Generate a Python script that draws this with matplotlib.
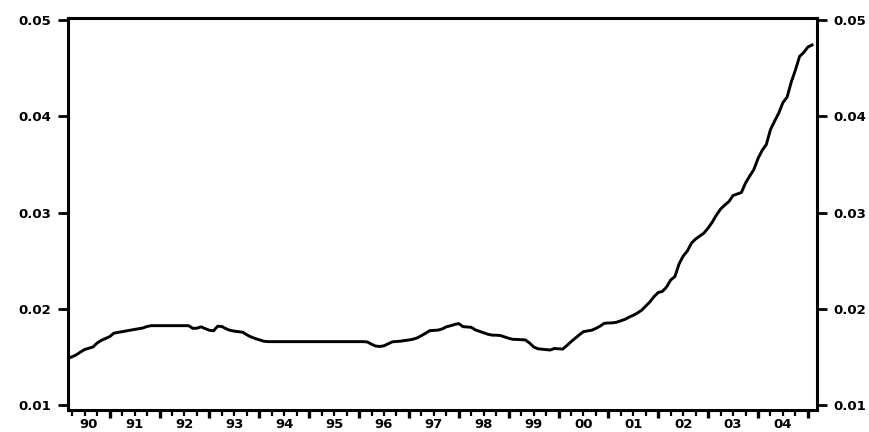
import numpy as np
import matplotlib
matplotlib.use("Agg")
import matplotlib.pyplot as plt

# monthly observations, 1990M03 .. 2005M02
start_year, start_month = 1990, 3
values = [
    # 1990 (Mar-Dec)
    0.01485, 0.01501, 0.01522, 0.01551, 0.01577, 0.01590, 0.01603, 0.01644,
    0.01672, 0.01691,
    # 1991
    0.01710, 0.01746, 0.01754, 0.01761, 0.01769, 0.01777, 0.01785, 0.01792,
    0.01800, 0.01816, 0.01824, 0.01824,
    # 1992
    0.01824, 0.01824, 0.01824, 0.01824, 0.01824, 0.01824, 0.01824, 0.01824,
    0.01796, 0.01798, 0.01812, 0.01793,
    # 1993
    0.01776, 0.01771, 0.01819, 0.01815, 0.01792, 0.01775, 0.01767, 0.01762,
    0.01756, 0.01729, 0.01707, 0.01691,
    # 1994
    0.01677, 0.01663, 0.01658, 0.01658, 0.01658, 0.01658, 0.01658, 0.01658,
    0.01658, 0.01658, 0.01658, 0.01658,
    # 1995
    0.01658, 0.01658, 0.01658, 0.01658, 0.01658, 0.01658, 0.01658, 0.01658,
    0.01658, 0.01658, 0.01658, 0.01658,
    # 1996
    0.01658, 0.01658, 0.01655, 0.01631, 0.01612, 0.01608, 0.01615, 0.01636,
    0.01656, 0.01660, 0.01663, 0.01670,
    # 1997
    0.01675, 0.01683, 0.01697, 0.01720, 0.01745, 0.01772, 0.01775, 0.01778,
    0.01790, 0.01812, 0.01823, 0.01836,
    # 1998
    0.01846, 0.01814, 0.01810, 0.01807, 0.01780, 0.01765, 0.01750, 0.01735,
    0.01726, 0.01725, 0.01722, 0.01707,
    # 1999
    0.01693, 0.01682, 0.01681, 0.01678, 0.01676, 0.01645, 0.01604, 0.01584,
    0.01580, 0.01576, 0.01571, 0.01587,
    # 2000
    0.01584, 0.01581, 0.01617, 0.01657, 0.01693, 0.01729, 0.01762, 0.01769,
    0.01777, 0.01796, 0.01819, 0.01849,
    # 2001
    0.01852, 0.01853, 0.01860, 0.01875, 0.01890, 0.01913, 0.01932, 0.01956,
    0.01985, 0.02029, 0.02072, 0.02127,
    # 2002
    0.02169, 0.02180, 0.02226, 0.02299, 0.02335, 0.02465, 0.02548, 0.02600,
    0.02683, 0.02725, 0.02756, 0.02787,
    # 2003
    0.02839, 0.02901, 0.02974, 0.03036, 0.03078, 0.03114, 0.03177, 0.03192,
    0.03208, 0.03307, 0.03379, 0.03447,
    # 2004
    0.03561, 0.03646, 0.03707, 0.03862, 0.03951, 0.04034, 0.04143, 0.04200,
    0.04356, 0.04481, 0.04622, 0.04663,
    # 2005 (Jan-Feb)
    0.04720, 0.04741,
]
year_labels = ["90", "91", "92", "93", "94", "95", "96", "97",
               "98", "99", "00", "01", "02", "03", "04"]
y_ticks = [0.01, 0.02, 0.03, 0.04, 0.05]


def main():
    t = start_year + (start_month - 1 + np.arange(len(values))) / 12.0

    fig = plt.figure(figsize=(8.69, 4.32), dpi=100)
    ax = fig.add_axes([0.078, 0.051, 0.862, 0.907])
    ax.plot(t, values, color="black", lw=2.1, solid_joinstyle="round")

    x0, x1 = 1990.16, 2005.18
    ax.set_xlim(x0, x1)
    ax.set_ylim(0.00948, 0.0502)

    for s in ax.spines.values():
        s.set_linewidth(2.2)

    # y axis on both sides
    ax.set_yticks(y_ticks)
    ax.set_yticklabels(["%.2f" % v for v in y_ticks])
    ax.tick_params(axis="y", left=True, right=True, labelleft=True,
                   labelright=True, direction="out", length=7, width=2,
                   labelsize=9.5, pad=5)
    for lab in ax.get_yticklabels():
        lab.set_fontweight("bold")

    # x axis: year boundaries + quarters, labels centred in each year
    ax.set_xticks(np.arange(1991, 2006))
    ax.set_xticklabels([])
    ax.set_xticks(np.arange(1990.25, 2005.1, 0.25), minor=True)
    ax.tick_params(axis="x", which="major", direction="out", length=6,
                   width=2.4)
    ax.tick_params(axis="x", which="minor", direction="out", length=4,
                   width=1.6)
    for i, lab in enumerate(year_labels):
        yr = 1990 + i
        mid = (max(yr, x0) + min(yr + 1, x1)) / 2
        ax.text(mid, -0.02, lab, transform=ax.get_xaxis_transform(),
                ha="center", va="top", fontsize=9.5, fontweight="bold")

    fig.savefig("out.png", dpi=100)


if __name__ == "__main__":
    main()
